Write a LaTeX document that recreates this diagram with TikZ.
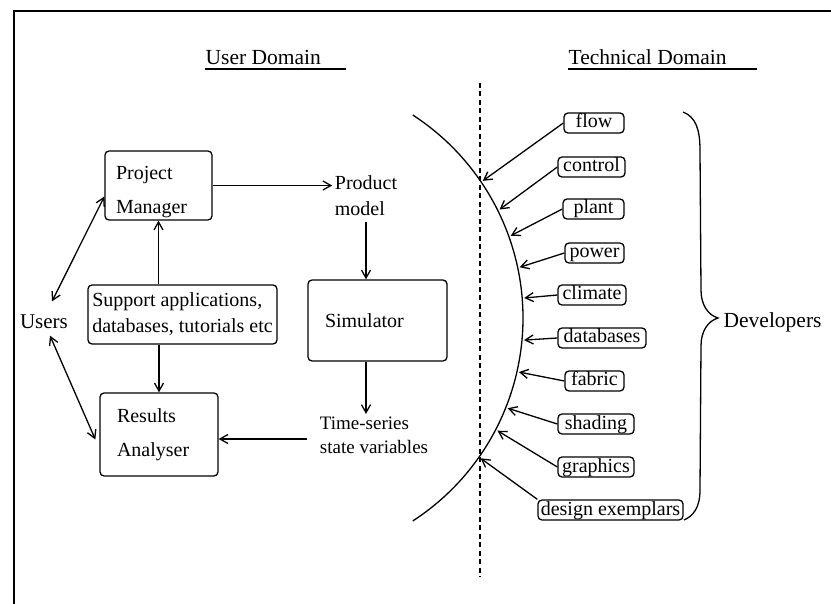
\documentclass[tikz,border=0pt]{standalone}
\usepackage{fontspec}
\setmainfont{Liberation Serif}
\usetikzlibrary{arrows.meta,calc}
\begin{document}
\begin{tikzpicture}[x=1pt,y=1pt,
  every node/.style={font=\fontsize{20}{24}\selectfont},
  line width=1.3pt,
  arr/.style={-{Straight Barb[length=8pt,width=9pt]}},
  darr/.style={{Straight Barb[length=8pt,width=9pt]}-{Straight Barb[length=8pt,width=9pt]}},
  bigbox/.style={draw, rounded corners=4pt, align=left, inner ysep=0pt},
  tbox/.style={draw, rounded corners=4pt, minimum height=20pt, inner xsep=2pt, inner ysep=1pt, text height=14pt, text depth=4pt},
  title/.style={anchor=base west, inner sep=0pt, font=\fontsize{21.5}{24}\selectfont}]
\useasboundingbox (0,0) rectangle (831,-604);
% frame
\draw[line width=1.4pt] (14,-604) -- (14,-11) -- (831,-11);

% titles
\node[title] (ud) at (205,-65) {User Domain};
\draw ([yshift=-4pt]ud.base west) -- ++(141,0);
\node[title] (td) at (568,-65) {Technical Domain};
\draw ([yshift=-4pt]td.base west) -- ++(189,0);

% user domain boxes
\node[bigbox, minimum width=107pt, minimum height=69pt, text width=85pt, inner xsep=11pt,
      font=\fontsize{20}{34}\selectfont] (pm) at (158.5,-185.5) {\rule{0pt}{26pt}Project\\Manager};
\node[bigbox, minimum width=189pt, minimum height=59pt,
      font=\fontsize{20}{26}\selectfont] (sup) at (182.5,-314.5) {Support applications,\\databases, tutorials etc};
\node[bigbox, minimum width=139pt, minimum height=81pt, text width=105pt, inner xsep=17pt] (sim) at (377.5,-320.5) {Simulator};
\node[bigbox, minimum width=118pt, minimum height=83pt, text width=84pt, inner xsep=17pt,
      font=\fontsize{20}{34}\selectfont] (res) at (159,-434.5) {Results\\Analyser};
\node[align=left, inner xsep=2pt, inner ysep=6pt, font=\fontsize{20}{26}\selectfont] (pmod) at (366,-195.5) {Product\\model};
\node[align=left, inner xsep=12pt, inner ysep=2pt, font=\fontsize{19}{24}\selectfont] (ts) at (374,-435) {Time-series\\state variables};
\node[inner sep=2pt, font=\fontsize{21}{24}\selectfont] (users) at (44,-322) {Users};

% user domain connectors
\draw[arr] (pm.east) -- (pm.east -| pmod.west);
\draw[arr] (pmod.south) -- (pmod.south |- sim.north);
\draw[arr] (sim.south -| pmod.south) -- (pmod.south |- ts.north);
\draw[arr] ([yshift=-4pt]ts.west) -- ([yshift=-4pt]ts.west -| res.east);
\draw[arr] (pm.south |- sup.north) -- (pm.south);
\draw[arr] (res.north |- sup.south) -- (res.north);
\draw[darr] ([xshift=8pt,yshift=11pt]users.north) -- ([yshift=-11pt]pm.west);
\draw[darr] ([xshift=6pt,yshift=-4pt]users.south) -- ([xshift=-4pt,yshift=-5pt]res.west);

% technical domain
\draw[dash pattern=on 5pt off 3.5pt, line width=1.3pt] (480,-83) -- (480,-577);
\coordinate (c) at (281,-318);
\draw (c) ++(57:242) arc[start angle=57, end angle=-57, radius=242pt];

\node[tbox, minimum width=60pt] (flow) at (594,-123) {flow};
\node[tbox, minimum width=67pt] (control) at (591.5,-167) {control};
\node[tbox, minimum width=61pt] (plant) at (593.5,-209) {plant};
\node[tbox, minimum width=59pt] (power) at (594.5,-253) {power};
\node[tbox, minimum width=68pt] (climate) at (592,-295) {climate};
\node[tbox, minimum width=88pt] (databases) at (602,-338) {databases};
\node[tbox, minimum width=59pt] (fabric) at (594.5,-381) {fabric};
\node[tbox, minimum width=76pt] (shading) at (596,-424) {shading};
\node[tbox, minimum width=76pt] (graphics) at (596,-467) {graphics};
\node[tbox, minimum width=145pt] (design) at (610.5,-510) {design exemplars};

\path (c) ++(34.2:244) coordinate (t1);
\path (c) ++(26.4:244) coordinate (t2);
\path (c) ++(19.7:244) coordinate (t3);
\path (c) ++(12.0:244) coordinate (t4);
\path (c) ++(4.7:244) coordinate (t5);
\path (c) ++(-5.2:244) coordinate (t6);
\path (c) ++(-12.8:244) coordinate (t7);
\path (c) ++(-21.7:244) coordinate (t8);
\path (c) ++(-27.5:244) coordinate (t9);
\path (c) ++(-35.1:244) coordinate (t10);

\draw[arr] (flow.west) -- (t1);
\draw[arr] (control.west) -- (t2);
\draw[arr] (plant.west) -- (t3);
\draw[arr] (power.west) -- (t4);
\draw[arr] (climate.west) -- (t5);
\draw[arr] (databases.west) -- (t6);
\draw[arr] (fabric.west) -- (t7);
\draw[arr] (shading.west) -- (t8);
\draw[arr] (graphics.west) -- (t9);
\draw[arr] (design.north west) -- (t10);

% brace
\draw (683,-112) .. controls (696,-117) and (700,-130) .. (700,-150)
  -- (701,-290) .. controls (701,-305) and (708,-315) .. (718,-318)
  .. controls (708,-321) and (701,-331) .. (701,-346)
  -- (700,-490) .. controls (700,-508) and (693,-516) .. (684,-520);
\node[anchor=west, inner sep=0pt, font=\fontsize{21.5}{24}\selectfont] (dev) at (723,-322) {Developers};
\end{tikzpicture}
\end{document}
